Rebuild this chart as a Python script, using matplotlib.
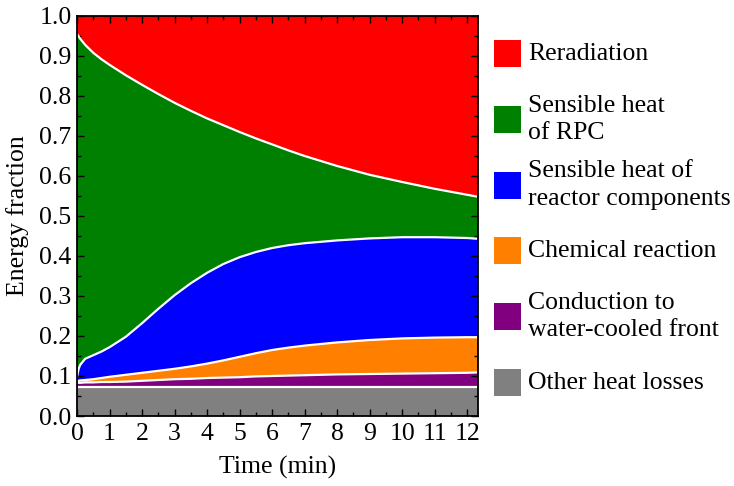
import numpy as np
import matplotlib
matplotlib.use("Agg")
import matplotlib.pyplot as plt
from matplotlib.patches import Rectangle
from matplotlib.ticker import MultipleLocator

# Energy fractions
time_min = [0, 0.05, 0.1, 0.25, 0.5, 0.75, 1.0, 1.5, 2.0, 2.5, 3.0, 3.5, 4.0, 4.5,
            5.0, 5.5, 6.0, 6.5, 7.0, 8.0, 9.0, 10.0, 11.0, 12.0, 12.33]
other_losses = [0.072] * 25
conduction = [0.011, 0.011, 0.011, 0.012, 0.012, 0.013, 0.013, 0.014, 0.016, 0.018, 0.020,
              0.021, 0.023, 0.024, 0.025, 0.027, 0.028, 0.029, 0.030, 0.032, 0.033, 0.034,
              0.035, 0.036, 0.037]
chemical = [0.005, 0.005, 0.006, 0.006, 0.008, 0.010, 0.013, 0.017, 0.020, 0.023, 0.026,
            0.031, 0.036, 0.043, 0.051, 0.058, 0.065, 0.070, 0.074, 0.080, 0.085, 0.088,
            0.089, 0.089, 0.088]
sens_reactor = [0.010, 0.030, 0.039, 0.053, 0.060, 0.066, 0.074, 0.095, 0.124, 0.155, 0.184,
                0.208, 0.227, 0.241, 0.249, 0.253, 0.255, 0.256, 0.256, 0.255, 0.254, 0.253,
                0.251, 0.248, 0.246]
sens_rpc = [0.857, 0.831, 0.815, 0.785, 0.756, 0.731, 0.706, 0.654, 0.596, 0.537, 0.481,
            0.431, 0.386, 0.347, 0.313, 0.284, 0.259, 0.237, 0.218, 0.186, 0.159, 0.138,
            0.121, 0.108, 0.105]
reradiation = [0.045, 0.051, 0.057, 0.072, 0.092, 0.108, 0.122, 0.148, 0.172, 0.195, 0.217,
               0.237, 0.256, 0.273, 0.290, 0.306, 0.321, 0.336, 0.350, 0.375, 0.397, 0.415,
               0.432, 0.447, 0.452]

labels = ["Reradiation", "Sensible heat\nof RPC", "Sensible heat of\nreactor components",
          "Chemical reaction", "Conduction to\nwater-cooled front", "Other heat losses"]
colors = ["#ff0000", "#008000", "#0000ff", "#ff8000", "#800080", "#808080"]

plt.rcParams['font.family'] = ['Liberation Serif', 'DejaVu Serif']
plt.rcParams['font.size'] = 18.5

W, H = 734, 486
fig = plt.figure(figsize=(W / 100, H / 100), dpi=100)
ax = fig.add_axes([77 / W, 1 - 416 / H, 401 / W, 400 / H])

# stack from the bottom up
layers = [other_losses, conduction, chemical, sens_reactor, sens_rpc, reradiation]
ax.stackplot(time_min, *layers, colors=colors[::-1], linewidth=0)
tops = np.cumsum(np.array(layers), axis=0)
for top in tops[:-1]:
    ax.plot(time_min, top, color='white', lw=1.6, solid_capstyle='butt')

ax.set_xlim(0, 12.33)
ax.set_ylim(0, 1.0)
ax.xaxis.set_major_locator(MultipleLocator(1))
ax.xaxis.set_minor_locator(MultipleLocator(0.5))
ax.yaxis.set_major_locator(MultipleLocator(0.1))
ax.yaxis.set_minor_locator(MultipleLocator(0.05))
ax.yaxis.set_major_formatter(plt.FormatStrFormatter('%.1f'))
ax.tick_params(which='both', direction='in', top=True, right=True, width=1.0, color='black')
ax.tick_params(which='major', length=5)
ax.tick_params(which='minor', length=3)
ax.tick_params(axis='x', pad=5)
ax.tick_params(axis='y', pad=4)
for s in ax.spines.values():
    s.set_linewidth(1.3)

fig.text(277.5 / W, 1 - 467 / H, "Time (min)", ha='center', va='center')
fig.text(18 / W, 1 - 216 / H, "Energy fraction", ha='center', va='center', rotation=90)

# legend drawn by hand so entries sit at even spacing
for i, (lab, col) in enumerate(zip(labels, colors)):
    yc = 53.5 + i * 65.8
    fig.add_artist(Rectangle((494 / W, 1 - (yc + 13.5) / H), 27 / W, 27 / H,
                             facecolor=col, edgecolor='none', transform=fig.transFigure))
    fig.text(528 / W, 1 - yc / H, lab, ha='left', va='center', linespacing=1.32)

fig.savefig("out.png", dpi=100)
